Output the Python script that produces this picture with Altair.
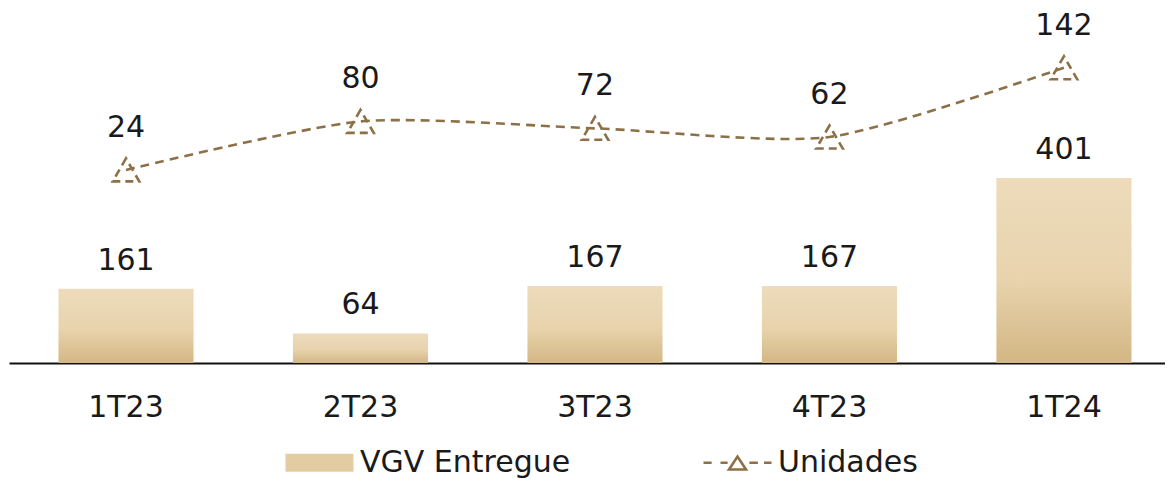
import altair as alt
import pandas as pd

trimestres = ["1T23", "2T23", "3T23", "4T23", "1T24"]
vgv = [161, 64, 167, 167, 401]
unidades = [24, 80, 72, 62, 142]
series = ["VGV Entregue", "Unidades"]

FONT = "DejaVu Sans"
FS = 30
TXT = "#1a1a1a"
LINE = "#8c7148"

df = pd.DataFrame({"tri": trimestres, "vgv": vgv, "un": unidades})
leg_df = pd.DataFrame({"serie": series})

xenc = alt.X(
    "tri:N", sort=trimestres, title=None,
    scale=alt.Scale(paddingInner=0.424, paddingOuter=0.177, align=0.596),
    axis=alt.Axis(labelFontSize=FS, labelFont=FONT, labelColor=TXT, labelPadding=29,
                  ticks=False, domainColor="#111111", domainWidth=2, labelAngle=0),
)
yl = alt.Scale(domain=[0, 770])
yr = alt.Scale(domain=[-199, 211], zero=False)

grad = alt.Gradient(
    gradient="linear",
    stops=[alt.GradientStop(color="#eddbbb", offset=0),
           alt.GradientStop(color="#e8d3ad", offset=0.55),
           alt.GradientStop(color="#d3b784", offset=1)],
    x1=0, x2=0, y1=0, y2=1,
)

base = alt.Chart(df)
bars = base.mark_bar(color=grad).encode(x=xenc, y=alt.Y("vgv:Q", scale=yl, axis=None))
bar_txt = base.mark_text(dy=-28, fontSize=FS, font=FONT, color=TXT).encode(
    x=xenc, y=alt.Y("vgv:Q", scale=yl, axis=None), text="vgv:Q")

line = base.mark_line(interpolate="cardinal", tension=0.3, strokeDash=[9, 6], strokeWidth=2.6,
                      color=LINE).encode(
    x=xenc, y=alt.Y("un:Q", scale=yr, axis=None))
pts = base.mark_point(shape="triangle-up", size=700, filled=False, strokeDash=[8, 5],
                      strokeWidth=2.6, color=LINE, opacity=1).encode(
    x=xenc, y=alt.Y("un:Q", scale=yr, axis=None))
un_txt = base.mark_text(dy=-42, fontSize=FS, font=FONT, color=TXT).encode(
    x=xenc, y=alt.Y("un:Q", scale=yr, axis=None), text="un:Q")

rect_path = "M-1,-0.265H1V0.265H-1Z"
line_path = ("M-1,0H-0.76M-0.5,0H-0.29M0.35,0H0.6M0.78,0H1"
             "M-0.25,0.2L0,-0.18L0.25,0.2Z")

legend = alt.Legend(
    title=None, orient="none", legendX=275, legendY=419, direction="horizontal",
    labelFontSize=FS, labelFont=FONT, labelColor=TXT, symbolSize=4624, labelLimit=0,
    symbolStrokeWidth=2.6, labelOffset=5, columnPadding=127, padding=0,
    symbolOpacity=1,
)
leg = alt.Chart(leg_df).mark_point(filled=False).encode(
    shape=alt.Shape("serie:N", scale=alt.Scale(domain=series, range=[rect_path, line_path]), legend=legend),
    fill=alt.Fill("serie:N", scale=alt.Scale(domain=series, range=["#e4cca2", "transparent"]), legend=legend),
    stroke=alt.Stroke("serie:N", scale=alt.Scale(domain=series, range=["transparent", LINE]), legend=legend),
).transform_filter("datum.serie == 'none'")

left = alt.layer(bars, bar_txt)
right = alt.layer(line, pts, un_txt)

chart = alt.layer(left, right, leg).resolve_scale(y="independent").properties(
    width=1156, height=355,
    autosize=alt.AutoSizeParams(type="none"),
    padding={"left": 1, "top": 0, "right": 0, "bottom": 115},
).configure_view(stroke=None)

chart.save("out.html", embed_options={"renderer": "svg", "actions": False})
